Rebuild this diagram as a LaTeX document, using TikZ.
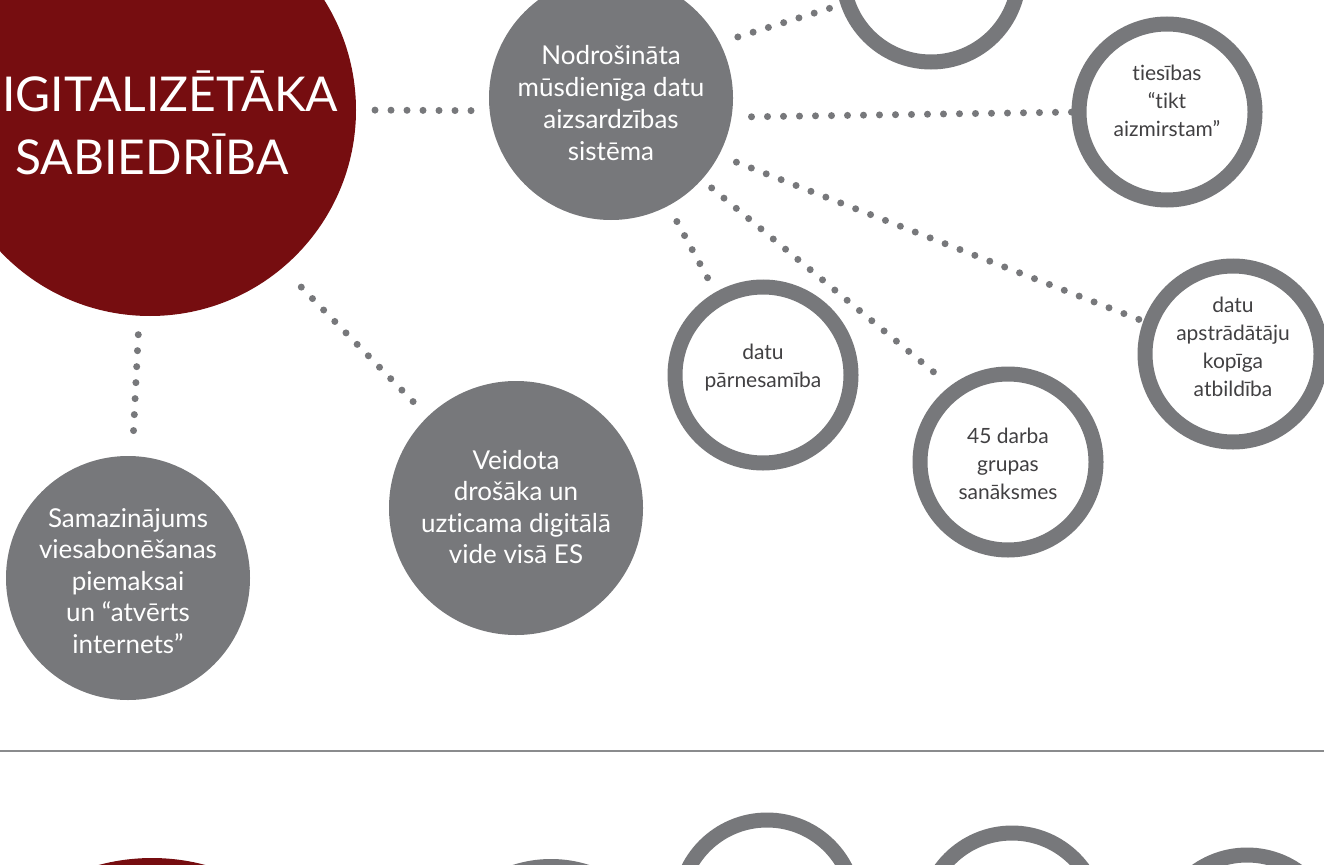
\documentclass[tikz,border=0pt]{standalone}
\usepackage{fontspec}
\setmainfont[Ligatures=NoCommon]{Lato}
\definecolor{cgray}{HTML}{77787B}
\definecolor{cred}{HTML}{760D10}
\definecolor{ctext}{HTML}{414042}
\definecolor{cline}{HTML}{8A8B8D}
\begin{document}
\begin{tikzpicture}[x=1pt,y=-1pt,
  filled/.style={circle, fill=cgray, inner sep=0pt, outer sep=0pt},
  ftxt/.style={text=white, align=center, inner sep=0pt, font=\fontsize{26}{31.5}\selectfont},
  ring/.style={circle, draw=cgray, line width=15pt, inner sep=0pt, outer sep=0pt, minimum size=176pt},
  rtxt/.style={text=ctext, align=center, inner sep=0pt, font=\fontsize{21}{28}\selectfont},
  bigred/.style={circle, fill=cred, inner sep=0pt, outer sep=0pt, minimum size=412pt},
  dots/.style={draw=cgray, line width=7pt, line cap=round, dash pattern=on 0pt off 16pt}]
\useasboundingbox (0,0) rectangle (1324,864);
\clip (0,0) rectangle (1324,864);
% top section
\node[bigred] (red) at (150,110) {};
\node[text=white, align=center, font=\fontsize{48}{63}\selectfont] (redtxt) at (152,123) {DIGITALIZĒTĀKA\\SABIEDRĪBA};
\node[filled, minimum size=244pt] (nod) at (611,98) {};
\node[ftxt, font=\fontsize{26}{32}\selectfont] (nodT) at (611,103.5) {Nodrošināta\\mūsdienīga datu\\aizsardzības\\sistēma};
\node[filled, minimum size=244pt] (sam) at (128,578) {};
\node[ftxt] (samT) at (128,581) {Samazinājums\\viesabonēšanas\\piemaksai\\un “atvērts\\internets”};
\node[filled, minimum size=254pt] (veid) at (516,508) {};
\node[ftxt] (veidT) at (516,507) {Veidota\\drošāka un\\uzticama digitālā\\vide visā ES};
\node[ring] (top) at (931,-26) {};
\node[ring] (ties) at (1167,112) {};
\node[rtxt] (tiesT) at (1167,101) {tiesības\\“tikt\\aizmirstam”};
\node[ring] (apstr) at (1233,354) {};
\node[rtxt] (apstrT) at (1233,347) {datu\\apstrādātāju\\kopīga\\atbildība};
\node[ring] (datup) at (763,375) {};
\node[rtxt] (datupT) at (763,368) {datu\\pārnesamība};
\node[ring] (d45) at (1008,462) {};
\node[rtxt] (d45T) at (1008,464) {45 darba\\grupas\\sanāksmes};
% connectors
\draw[dots, shorten <=19pt, shorten >=15pt] (red.0) -- (nod.186);
\draw[dots, shorten <=19pt, shorten >=22pt] (red.-93) -- (sam.88);
\draw[dots, shorten <=27pt, shorten >=17pt] (red.-50) -- (veid.134);
\draw[dots, shorten <=19pt, shorten >=15pt] (nod.27) -- (top.199);
\draw[dots, shorten <=20pt, shorten >=4pt] (nod.-9) -- (ties.180);
\draw[dots, shorten <=19pt, shorten >=4pt] (nod.-28) -- (apstr.160);
\draw[dots, shorten <=13pt, shorten >=14pt] (nod.-42) -- (d45.126);
\draw[dots, shorten <=18pt, shorten >=20pt] (nod.-62) -- (datup.120);
% separator
\coordinate (sepL) at (0,751);
\coordinate (sepR) at (1324,751);
\draw[cline, line width=2.5pt] (sepL) -- (sepR);
% bottom section (partially visible)
\node[bigred] (redb) at (152,1064) {};
\node[filled, minimum size=250pt] (grayb) at (551,984) {};
\node[ring] (ringb1) at (767,908) {};
\node[ring] (ringb2) at (1012,921) {};
\node[ring] (ringb3) at (1247,943) {};
\end{tikzpicture}
\end{document}
